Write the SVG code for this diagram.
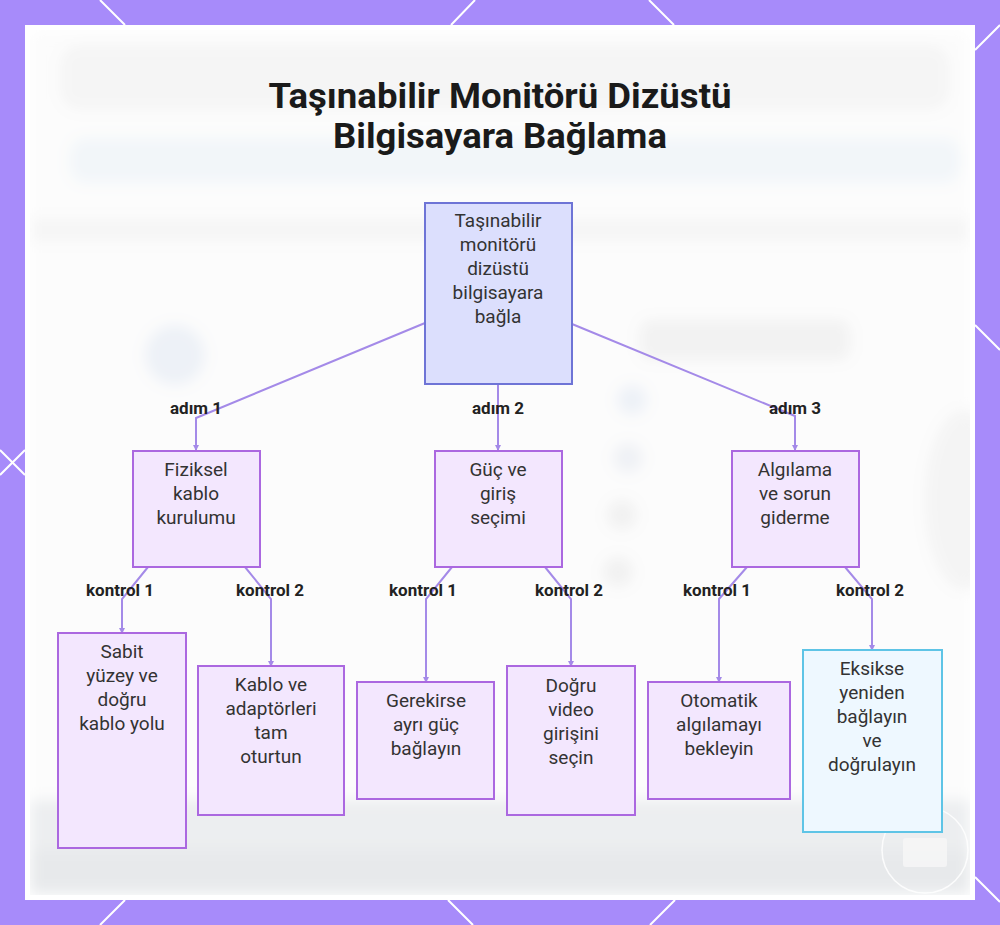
<svg xmlns="http://www.w3.org/2000/svg" width="1000" height="925" viewBox="0 0 1000 925">
<defs>
<style>
.deco{stroke:#ffffff;stroke-width:2;fill:none}
.conn{stroke:#a48ae8;stroke-width:2;fill:none}
.lbl{font-family:Roboto,"Liberation Sans",sans-serif;font-weight:700;font-size:17px;fill:#222;text-anchor:middle}
.nt{font-family:Roboto,"Liberation Sans",sans-serif;font-size:19px;fill:#333;text-anchor:middle}
.root{fill:#dcdffd;stroke:#6e74d6;stroke-width:2}
.lv{fill:#f3e7fe;stroke:#ab68e0;stroke-width:2}
.blue{fill:#eef8ff;stroke:#5ec4e6;stroke-width:2}
.title{font-family:Roboto,"Liberation Sans",sans-serif;font-weight:700;font-size:35px;fill:#1a1a1a;text-anchor:middle}
</style>
<filter id="blur" x="-20%" y="-50%" width="140%" height="200%"><feGaussianBlur stdDeviation="7"/></filter>
<clipPath id="inner"><rect x="30" y="30" width="940" height="865"/></clipPath>
<marker id="arr" markerUnits="userSpaceOnUse" markerWidth="6" markerHeight="6" refX="5" refY="3" orient="auto"><path d="M0,0 L6,3 L0,6 z" fill="#a48ae8"/></marker>
</defs>
<rect x="0" y="0" width="1000" height="925" fill="#a78bfa"/>
<g id="frame-deco">
<path class="deco" d="M100,0 L125,25 M475,0 L451,25 M649,0 L674,25 M1000,25 L975,50 M975,325 L1000,350 M975,877 L1000,902 M0,450 L25,475 M0,475 L25,450 M125,900 L100,925 M448,900 L473,925 M675,900 L650,925"/>
</g>
<rect x="25" y="25" width="950" height="875" fill="#ffffff"/>
<g clip-path="url(#inner)">
<g id="background" filter="url(#blur)">
<rect x="30" y="30" width="940" height="865" fill="#fcfcfc"/>
<rect x="60" y="45" width="890" height="65" rx="20" fill="#f0f0f0" opacity="0.6"/>
<rect x="70" y="138" width="890" height="45" rx="15" fill="#eef3f8" opacity="0.7"/>
<rect x="30" y="218" width="940" height="24" fill="#f0f0f0" opacity="0.5"/>
<circle cx="175" cy="355" r="30" fill="#edf1f7"/>
<rect x="640" y="320" width="210" height="40" rx="10" fill="#f2f2f2"/>
<circle cx="632" cy="400" r="15" fill="#edf1f7"/>
<circle cx="628" cy="458" r="15" fill="#eff1f5"/>
<circle cx="622" cy="515" r="15" fill="#f1f1f1"/>
<circle cx="618" cy="572" r="15" fill="#f1f1f1"/>
<ellipse cx="965" cy="500" rx="40" ry="90" fill="#f4f4f4"/>
<rect x="30" y="800" width="940" height="95" fill="#eceef0"/>
<rect x="30" y="850" width="940" height="40" fill="#e7e9eb"/>
</g>
</g>
<g id="watermark" opacity="0.85">
<circle cx="925" cy="850" r="43" fill="none" stroke="#ffffff" stroke-width="1.5"/>
<rect x="903" y="838" width="44" height="29" rx="3" fill="#f7f7f7"/>
</g>
<g id="title">
<text class="title" x="500" y="108" textLength="463" lengthAdjust="spacingAndGlyphs">Taşınabilir Monitörü Dizüstü</text>
<text class="title" x="500" y="148" textLength="334" lengthAdjust="spacingAndGlyphs">Bilgisayara Bağlama</text>
</g>
<g id="connectors">
<path class="conn" marker-end="url(#arr)" d="M425,323 L196,418 L196,450"/>
<path class="conn" marker-end="url(#arr)" d="M498,384 L498,450"/>
<path class="conn" marker-end="url(#arr)" d="M572,324 L795,416 L795,450"/>
<path class="conn" marker-end="url(#arr)" d="M148,567 L122,599 L122,633"/>
<path class="conn" marker-end="url(#arr)" d="M245,567 L271,599 L271,666"/>
<path class="conn" marker-end="url(#arr)" d="M452,567 L426,599 L426,682"/>
<path class="conn" marker-end="url(#arr)" d="M545,567 L571,599 L571,666"/>
<path class="conn" marker-end="url(#arr)" d="M747,567 L719,599 L719,682"/>
<path class="conn" marker-end="url(#arr)" d="M845,567 L872,599 L872,650"/>
<text class="lbl" x="196" y="414">adım 1</text>
<text class="lbl" x="498" y="414">adım 2</text>
<text class="lbl" x="795" y="414">adım 3</text>
<text class="lbl" x="120" y="596">kontrol 1</text>
<text class="lbl" x="270" y="596">kontrol 2</text>
<text class="lbl" x="423" y="596">kontrol 1</text>
<text class="lbl" x="569" y="596">kontrol 2</text>
<text class="lbl" x="717" y="596">kontrol 1</text>
<text class="lbl" x="870" y="596">kontrol 2</text>
</g>
<g id="root">
<rect class="root" x="425" y="203" width="147" height="181"/>
<text class="nt" x="498" y="227">Taşınabilir</text>
<text class="nt" x="498" y="251">monitörü</text>
<text class="nt" x="498" y="275">dizüstü</text>
<text class="nt" x="498" y="299">bilgisayara</text>
<text class="nt" x="498" y="323">bağla</text>
</g>
<g id="step1">
<rect class="lv" x="133" y="451" width="127" height="116"/>
<text class="nt" x="196" y="476">Fiziksel</text>
<text class="nt" x="196" y="500">kablo</text>
<text class="nt" x="196" y="524">kurulumu</text>
</g>
<g id="step2">
<rect class="lv" x="435" y="451" width="127" height="116"/>
<text class="nt" x="498" y="476">Güç ve</text>
<text class="nt" x="498" y="500">giriş</text>
<text class="nt" x="498" y="524">seçimi</text>
</g>
<g id="step3">
<rect class="lv" x="732" y="451" width="127" height="116"/>
<text class="nt" x="795" y="476">Algılama</text>
<text class="nt" x="795" y="500">ve sorun</text>
<text class="nt" x="795" y="524">giderme</text>
</g>
<g id="check1a">
<rect class="lv" x="58" y="633" width="128" height="215"/>
<text class="nt" x="122" y="658">Sabit</text>
<text class="nt" x="122" y="682">yüzey ve</text>
<text class="nt" x="122" y="706">doğru</text>
<text class="nt" x="122" y="730">kablo yolu</text>
</g>
<g id="check1b">
<rect class="lv" x="198" y="666" width="146" height="149"/>
<text class="nt" x="271" y="691">Kablo ve</text>
<text class="nt" x="271" y="715">adaptörleri</text>
<text class="nt" x="271" y="739">tam</text>
<text class="nt" x="271" y="763">oturtun</text>
</g>
<g id="check2a">
<rect class="lv" x="357" y="682" width="137" height="117"/>
<text class="nt" x="426" y="707">Gerekirse</text>
<text class="nt" x="426" y="731">ayrı güç</text>
<text class="nt" x="426" y="755">bağlayın</text>
</g>
<g id="check2b">
<rect class="lv" x="507" y="666" width="128" height="149"/>
<text class="nt" x="571" y="692">Doğru</text>
<text class="nt" x="571" y="716">video</text>
<text class="nt" x="571" y="740">girişini</text>
<text class="nt" x="571" y="764">seçin</text>
</g>
<g id="check3a">
<rect class="lv" x="648" y="682" width="142" height="117"/>
<text class="nt" x="719" y="707">Otomatik</text>
<text class="nt" x="719" y="731">algılamayı</text>
<text class="nt" x="719" y="755">bekleyin</text>
</g>
<g id="check3b">
<rect class="blue" x="803" y="650" width="139" height="182"/>
<text class="nt" x="872" y="675">Eksikse</text>
<text class="nt" x="872" y="699">yeniden</text>
<text class="nt" x="872" y="723">bağlayın</text>
<text class="nt" x="872" y="747">ve</text>
<text class="nt" x="872" y="771">doğrulayın</text>
</g>
</svg>
